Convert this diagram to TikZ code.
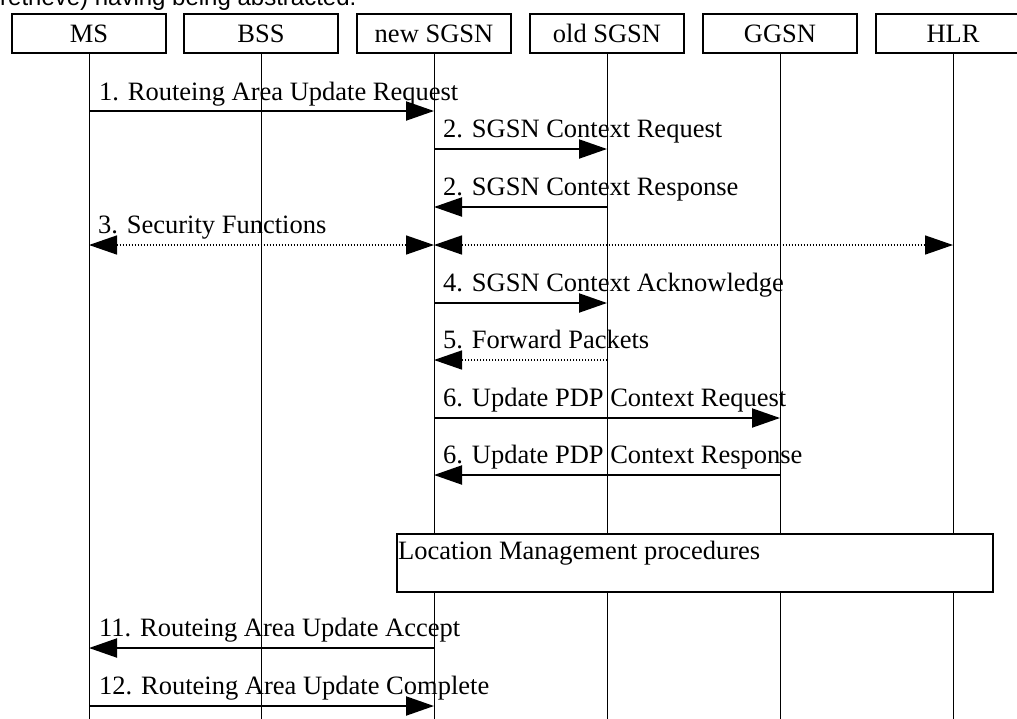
\documentclass[tikz,border=0pt]{standalone}
\usepackage{fontspec}
\setmainfont{Liberation Serif}
\newfontfamily\arialfont{Liberation Sans}
\usetikzlibrary{arrows.meta}
\begin{document}
\begin{tikzpicture}[x=1pt,y=-1pt,
  entity/.style={draw, line width=2pt, minimum width=154pt, minimum height=39pt, inner sep=0pt,
    font=\fontsize{26.5}{30}\selectfont, fill=white},
  lifeline/.style={line width=1pt},
  msg/.style={line width=2pt, -{Triangle[length=28pt,width=19pt]}},
  dotmsg/.style={line width=1.5pt, dash pattern=on 1.5pt off 1.5pt, -{Triangle[length=28pt,width=19pt]}},
  dotboth/.style={line width=1.5pt, dash pattern=on 1.5pt off 1.5pt,
    {Triangle[length=28pt,width=19pt]}-{Triangle[length=28pt,width=19pt]}},
  lbl/.style={anchor=base west, inner sep=0pt, font=\fontsize{26.5}{30}\selectfont},
  procbox/.style={draw, line width=2pt, fill=white, anchor=north west, inner sep=0pt},
]
\clip (0,0) rectangle (1017,718);

\node[lbl, font=\arialfont\fontsize{24}{28}\selectfont] (caption) at (0,5) {retrieve) having being abstracted.};

% entities
\node[entity] (ms)    at (89,33.5)  {MS};
\node[entity] (bss)   at (261,33.5) {BSS};
\node[entity] (nsgsn) at (434,33.5) {new SGSN};
\node[entity] (osgsn) at (607,33.5) {old SGSN};
\node[entity] (ggsn)  at (780,33.5) {GGSN};
\node[entity] (hlr)   at (953,33.5) {HLR};

% lifelines
\foreach \e in {ms,bss,nsgsn,osgsn,ggsn,hlr}{
  \coordinate (\e-end) at (\e.south |- 0,720);
  \draw[lifeline] (\e.south) -- (\e-end);
}

% location management box
\node[procbox, minimum width=596pt, minimum height=58pt] (loc) at (396,533) {};
\node[lbl] (loctext) at (398,559) {Location Management procedures};

% message anchor points
\coordinate (ms-1)  at (ms |- 0,111);   \coordinate (ns-1)  at (nsgsn |- 0,111);
\coordinate (ns-2)  at (nsgsn |- 0,149); \coordinate (os-2)  at (osgsn |- 0,149);
\coordinate (ns-3)  at (nsgsn |- 0,207); \coordinate (os-3)  at (osgsn |- 0,207);
\coordinate (ms-4)  at (ms |- 0,245);   \coordinate (ns-4)  at (nsgsn |- 0,245); \coordinate (hl-4) at (hlr |- 0,245);
\coordinate (ns-5)  at (nsgsn |- 0,303); \coordinate (os-5)  at (osgsn |- 0,303);
\coordinate (ns-6)  at (nsgsn |- 0,360); \coordinate (os-6)  at (osgsn |- 0,360);
\coordinate (ns-7)  at (nsgsn |- 0,418); \coordinate (gg-7)  at (ggsn |- 0,418);
\coordinate (ns-8)  at (nsgsn |- 0,475); \coordinate (gg-8)  at (ggsn |- 0,475);
\coordinate (ms-9)  at (ms |- 0,648);   \coordinate (ns-9)  at (nsgsn |- 0,648);
\coordinate (ms-10) at (ms |- 0,706);   \coordinate (ns-10) at (nsgsn |- 0,706);

% messages
\draw[msg] (ms-1) -- (ns-1);
\node[lbl] (t1) at (99,100) {1. Routeing Area Update Request};

\draw[msg] (ns-2) -- (os-2);
\node[lbl] (t2) at (443,137) {2. SGSN Context Request};

\draw[msg] (os-3) -- (ns-3);
\node[lbl] (t3) at (443,195) {2. SGSN Context Response};

\draw[dotboth] (ms-4) -- (ns-4);
\draw[dotboth] (ns-4) -- (hl-4);
\node[lbl] (t4) at (98,233) {3. Security Functions};

\draw[msg] (ns-5) -- (os-5);
\node[lbl] (t5) at (443,291) {4. SGSN Context Acknowledge};

\draw[dotmsg] (os-6) -- (ns-6);
\node[lbl] (t6) at (443,348) {5. Forward Packets};

\draw[msg] (ns-7) -- (gg-7);
\node[lbl] (t7) at (443,406) {6. Update PDP Context Request};

\draw[msg] (gg-8) -- (ns-8);
\node[lbl] (t8) at (443,463) {6. Update PDP Context Response};

\draw[msg] (ns-9) -- (ms-9);
\node[lbl] (t9) at (99,636) {11. Routeing Area Update Accept};

\draw[msg] (ms-10) -- (ns-10);
\node[lbl] (t10) at (99,694) {12. Routeing Area Update Complete};
\end{tikzpicture}
\end{document}
